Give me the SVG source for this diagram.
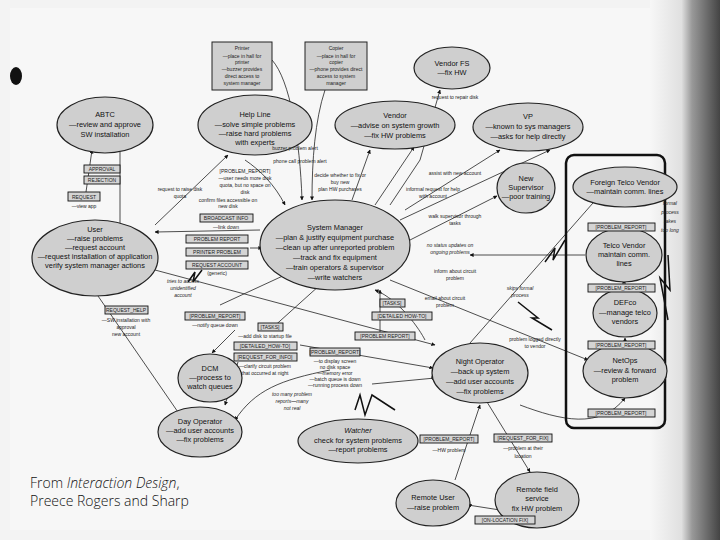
<svg xmlns="http://www.w3.org/2000/svg" width="720" height="540" viewBox="0 0 720 540">
<defs>
<marker id="a" viewBox="0 0 10 10" refX="9" refY="5" markerWidth="5" markerHeight="5" orient="auto"><path d="M0,0L10,5L0,10z" fill="#111"/></marker>
<linearGradient id="edge" x1="0" x2="1"><stop offset="0" stop-color="#f7f7f7"/><stop offset="0.45" stop-color="#e0e0e0"/><stop offset="0.6" stop-color="#999"/><stop offset="1" stop-color="#444"/></linearGradient>
<style>
.n ellipse{fill:#cfcfcf;stroke:#222;stroke-width:1.2}
.n rect{fill:#cfcfcf;stroke:#222;stroke-width:1}
.t{font-family:"Liberation Sans",Arial,sans-serif;font-size:7.4px;fill:#111;text-anchor:middle}
.s{font-family:"Liberation Sans",Arial,sans-serif;font-size:5px;fill:#222;text-anchor:middle}
.i{font-style:italic}
.b rect{fill:#d4d4d4;stroke:#111;stroke-width:0.9}
#c path,#c line{fill:none;stroke:#222;stroke-width:0.8;marker-end:url(#a)}
.z{fill:none;stroke:#111;stroke-width:1.5}
</style>
</defs>
<rect width="720" height="540" fill="#f3f3f3"/>
<rect x="10" y="8" width="660" height="522" fill="#f7f7f7"/>
<rect x="650" y="0" width="70" height="540" fill="url(#edge)"/>
<ellipse cx="16" cy="76" rx="6" ry="9" fill="#111"/>

<g id="c">
<path d="M86,192 L92,150"/>
<line x1="120" y1="152" x2="120" y2="232" style="marker-end:none"/>
<path d="M155,225 L228,155"/>
<path d="M272,60 C290,80 300,140 302,200"/>
<path d="M325,90 C315,120 312,160 312,200"/>
<path d="M245,160 C260,170 275,185 285,205"/>
<path d="M352,200 L370,150"/>
<path d="M375,205 L414,147"/>
<path d="M390,205 L420,160 L440,90"/>
<path d="M405,210 L500,150"/>
<path d="M400,220 L550,150"/>
<path d="M410,240 L497,196"/>
<path d="M260,230 L155,232"/>
<path d="M250,248 L262,248"/>
<path d="M585,255 L470,255"/>
<path d="M390,280 L588,360"/>
<path d="M470,343 L600,195"/>
<path d="M425,340 C420,330 400,300 375,290"/>
<path d="M270,330 L320,285"/>
<path d="M220,305 L300,268"/>
<path d="M380,335 L380,290"/>
<path d="M155,270 L435,345"/>
<path d="M98,296 L180,415"/>
<path d="M235,330 L212,353"/>
<path d="M238,362 L225,405"/>
<path d="M330,370 C280,380 255,390 235,420"/>
<path d="M300,345 L433,368"/>
<path d="M372,384 L435,378"/>
<path d="M455,480 L480,405"/>
<path d="M487,402 L530,472"/>
<path d="M500,510 L468,505"/>
<path d="M622,230 L622,228"/>
<path d="M624,282 L624,280"/>
<path d="M625,340 L625,338"/>
<path d="M520,405 C560,420 600,430 625,398"/>
<path d="M625,250 L625,246"/>
<polyline class="z" points="545,262 555,248 553,260 565,240"/>
<polyline class="z" points="188,282 195,272 193,282 202,270"/>
<polyline class="z" points="518,302 538,318 532,318 552,330"/>
<polyline class="z" points="668,255 670,290 660,278 668,320"/>
<polyline class="z" points="355,410 360,395 365,415 372,395 395,410 380,400"/>
</g>

<rect x="566" y="155" width="99" height="273" rx="8" fill="none" stroke="#111" stroke-width="2.5"/>

<g id="printer" class="n"><rect x="212" y="42" width="60" height="48"/><text class="s" x="242" y="50">Printer</text><text class="s" x="242" y="58">—place in hall for</text><text class="s" x="242" y="64">printer</text><text class="s" x="242" y="71">—buzzer provides</text><text class="s" x="242" y="78">direct access to</text><text class="s" x="242" y="85">system manager</text></g>
<g id="copier" class="n"><rect x="305" y="42" width="62" height="48"/><text class="s" x="336" y="50">Copier</text><text class="s" x="336" y="58">—place in hall for</text><text class="s" x="336" y="64">copier</text><text class="s" x="336" y="71">—phone provides direct</text><text class="s" x="336" y="78">access to system</text><text class="s" x="336" y="85">manager</text></g>
<g id="vendorfs" class="n"><ellipse cx="452" cy="68" rx="38" ry="21"/><text class="t" x="452" y="66">Vendor FS</text><text class="t" x="452" y="75">—fix HW</text></g>
<g id="abtc" class="n"><ellipse cx="105" cy="125" rx="48" ry="28"/><text class="t" x="105" y="117">ABTC</text><text class="t" x="105" y="127">—review and approve</text><text class="t" x="105" y="137">SW installation</text></g>
<g id="helpline" class="n"><ellipse cx="255" cy="125" rx="57" ry="30"/><text class="t" x="255" y="117">Help Line</text><text class="t" x="255" y="127">—solve simple problems</text><text class="t" x="255" y="136">—raise hard problems</text><text class="t" x="255" y="145">with experts</text></g>
<g id="vendor" class="n"><ellipse cx="395" cy="125" rx="60" ry="24"/><text class="t" x="395" y="118">Vendor</text><text class="t" x="395" y="128">—advise on system growth</text><text class="t" x="395" y="138">—fix HW problems</text></g>
<g id="vp" class="n"><ellipse cx="528" cy="127" rx="55" ry="24"/><text class="t" x="528" y="119">VP</text><text class="t" x="528" y="129">—known to sys managers</text><text class="t" x="528" y="139">—asks for help directly</text></g>
<g id="newsup" class="n"><ellipse cx="526" cy="188" rx="29" ry="25"/><text class="t" x="526" y="181">New</text><text class="t" x="526" y="190">Supervisor</text><text class="t" x="526" y="199">—poor training</text></g>
<g id="foreign" class="n"><ellipse cx="625" cy="187" rx="52" ry="20"/><text class="t" x="625" y="185">Foreign Telco Vendor</text><text class="t" x="625" y="194">—maintain comm. lines</text></g>
<g id="telco" class="n"><ellipse cx="624" cy="255" rx="38" ry="27"/><text class="t" x="624" y="248">Telco Vendor</text><text class="t" x="624" y="257">maintain comm.</text><text class="t" x="624" y="266">lines</text></g>
<g id="defco" class="n"><ellipse cx="625" cy="313" rx="32" ry="24"/><text class="t" x="625" y="305">DEFco</text><text class="t" x="625" y="315">—manage telco</text><text class="t" x="625" y="324">vendors</text></g>
<g id="netops" class="n"><ellipse cx="625" cy="371" rx="42" ry="27"/><text class="t" x="625" y="363">NetOps</text><text class="t" x="625" y="373">—review &amp; forward</text><text class="t" x="625" y="382">problem</text></g>
<g id="user" class="n"><ellipse cx="95" cy="258" rx="63" ry="38"/><text class="t" x="95" y="232">User</text><text class="t" x="95" y="241">—raise problems</text><text class="t" x="95" y="250">—request account</text><text class="t" x="95" y="259">—request installation of application</text><text class="t" x="95" y="268">verify system manager actions</text></g>
<g id="sysmgr" class="n"><ellipse cx="335" cy="245" rx="75" ry="45"/><text class="t" x="335" y="230">System Manager</text><text class="t" x="335" y="240">—plan &amp; justify equipment purchase</text><text class="t" x="335" y="250">—clean up after unreported problem</text><text class="t" x="335" y="260">—track and fix equipment</text><text class="t" x="335" y="270">—train operators &amp; supervisor</text><text class="t" x="335" y="280">—write watchers</text></g>
<g id="dcm" class="n"><ellipse cx="210" cy="378" rx="32" ry="24"/><text class="t" x="210" y="371">DCM</text><text class="t" x="210" y="380">—process to</text><text class="t" x="210" y="389">watch queues</text></g>
<g id="dayop" class="n"><ellipse cx="200" cy="432" rx="42" ry="25"/><text class="t" x="200" y="424">Day Operator</text><text class="t" x="200" y="433">—add user accounts</text><text class="t" x="200" y="442">—fix problems</text></g>
<g id="watcher" class="n"><ellipse cx="358" cy="441" rx="60" ry="22"/><text class="t i" x="358" y="433">Watcher</text><text class="t" x="358" y="443">check for system problems</text><text class="t" x="358" y="452">—report problems</text></g>
<g id="nightop" class="n"><ellipse cx="480" cy="373" rx="48" ry="30"/><text class="t" x="480" y="364">Night Operator</text><text class="t" x="480" y="374">—back up system</text><text class="t" x="480" y="384">—add user accounts</text><text class="t" x="480" y="394">—fix problems</text></g>
<g id="remoteuser" class="n"><ellipse cx="433" cy="503" rx="37" ry="23"/><text class="t" x="433" y="500">Remote User</text><text class="t" x="433" y="510">—raise problem</text></g>
<g id="remotefield" class="n"><ellipse cx="537" cy="500" rx="42" ry="28"/><text class="t" x="537" y="492">Remote field</text><text class="t" x="537" y="501">service</text><text class="t" x="537" y="511">fix HW problem</text></g>

<g id="labels" class="b">
<rect x="84" y="165" width="36" height="8"/><text class="s" x="102" y="171">APPROVAL</text>
<rect x="84" y="176" width="36" height="8"/><text class="s" x="102" y="182">REJECTION</text>
<rect x="68" y="192" width="32" height="9"/><text class="s" x="84" y="199">REQUEST</text><text class="s" x="84" y="208">—view app</text>
<text class="s" x="245" y="173">[PROBLEM_REPORT]</text><text class="s" x="245" y="180">—user needs more disk</text><text class="s" x="245" y="187">quota, but no space on</text><text class="s" x="245" y="194">disk</text>
<text class="s" x="180" y="191">request to raise disk</text><text class="s" x="180" y="198">quota</text>
<text class="s" x="228" y="202">confirm files accessible on</text><text class="s" x="228" y="208">new disk</text>
<text class="s" x="295" y="150">buzzer problem alert</text><text class="s" x="300" y="163">phone call problem alert</text>
<text class="s" x="340" y="177">decide whether to fix or</text><text class="s" x="340" y="184">buy new</text><text class="s" x="340" y="191">plan HW purchases</text>
<text class="s" x="455" y="99">request to repair disk</text>
<text class="s" x="455" y="175">assist with new account</text>
<text class="s" x="433" y="191">informal request for help</text><text class="s" x="433" y="198">with account</text>
<text class="s" x="455" y="218">walk supervisor through</text><text class="s" x="455" y="225">tasks</text>
<rect x="200" y="214" width="53" height="8"/><text class="s" x="226" y="220">BROADCAST INFO</text><text class="s" x="226" y="229">—link down</text>
<rect x="186" y="235" width="62" height="8"/><text class="s" x="217" y="241">PROBLEM REPORT</text>
<rect x="186" y="248" width="62" height="8"/><text class="s" x="217" y="254">PRINTER PROBLEM</text>
<rect x="186" y="261" width="62" height="8"/><text class="s" x="217" y="267">REQUEST ACCOUNT</text><text class="s" x="217" y="275">(generic)</text>
<text class="s i" x="183" y="283">tries to access</text><text class="s i" x="183" y="290">unidentified</text><text class="s i" x="183" y="297">account</text>
<text class="s i" x="450" y="247">no status updates on</text><text class="s i" x="450" y="254">ongoing problems</text>
<text class="s" x="455" y="273">inform about circuit</text><text class="s" x="455" y="280">problem</text>
<text class="s i" x="520" y="290">skips formal</text><text class="s i" x="520" y="297">process</text>
<text class="s" x="445" y="300">email about circuit</text><text class="s" x="445" y="307">problem</text>
<text class="s" x="535" y="341">problem logged directly</text><text class="s" x="535" y="348">to vendor</text>
<rect x="105" y="306" width="43" height="8"/><text class="s" x="126" y="312">REQUEST_HELP</text><text class="s" x="126" y="322">—SW installation with</text><text class="s" x="126" y="329">approval</text><text class="s" x="126" y="336">new account</text>
<rect x="185" y="312" width="60" height="8"/><text class="s" x="215" y="318">[PROBLEM_REPORT]</text><text class="s" x="215" y="327">—notify queue down</text>
<rect x="258" y="323" width="25" height="8"/><text class="s" x="270" y="329">[TASKS]</text><text class="s" x="265" y="338">—add disk to startup file</text>
<rect x="234" y="342" width="63" height="8"/><text class="s" x="265" y="348">[DETAILED_HOW-TO]</text>
<rect x="234" y="353" width="63" height="8"/><text class="s" x="265" y="359">[REQUEST_FOR_INFO]</text><text class="s" x="265" y="368">—clarify circuit problem</text><text class="s" x="265" y="375">that occurred at night</text>
<rect x="380" y="299" width="25" height="8"/><text class="s" x="392" y="305">[TASKS]</text>
<rect x="372" y="312" width="60" height="8"/><text class="s" x="402" y="318">[DETAILED HOW-TO]</text>
<rect x="355" y="332" width="60" height="8"/><text class="s" x="385" y="338">[PROBLEM REPORT]</text>
<rect x="310" y="348" width="50" height="8"/><text class="s" x="335" y="354">[PROBLEM_REPORT]</text><text class="s" x="335" y="363">—to display screen</text><text class="s" x="335" y="369">no disk space</text><text class="s" x="335" y="375">—memory error</text><text class="s" x="335" y="381">—batch queue is down</text><text class="s" x="335" y="387">—running process down</text>
<text class="s i" x="292" y="396">too many problem</text><text class="s i" x="292" y="403">reports—many</text><text class="s i" x="292" y="410">not real</text>
<rect x="588" y="223" width="67" height="8"/><text class="s" x="621" y="229">[PROBLEM_REPORT]</text>
<rect x="588" y="284" width="67" height="8"/><text class="s" x="621" y="290">[PROBLEM_REPORT]</text>
<rect x="588" y="341" width="67" height="8"/><text class="s" x="621" y="347">[PROBLEM_REPORT]</text>
<rect x="588" y="409" width="67" height="8"/><text class="s" x="621" y="415">[PROBLEM_REPORT]</text>
<text class="s i" x="670" y="205">formal</text><text class="s i" x="670" y="214">process</text><text class="s i" x="670" y="223">takes</text><text class="s i" x="670" y="232">too long</text>
<rect x="420" y="435" width="58" height="8"/><text class="s" x="449" y="441">[PROBLEM_REPORT]</text><text class="s" x="449" y="452">—HW problem</text>
<rect x="494" y="434" width="58" height="8"/><text class="s" x="523" y="440">[REQUEST_FOR_FIX]</text><text class="s" x="523" y="450">—problem at their</text><text class="s" x="523" y="458">location</text>
<rect x="475" y="516" width="60" height="8"/><text class="s" x="505" y="522">[ON-LOCATION FIX]</text>
</g>

<g id="caption" font-family="'Open Sans','Liberation Sans',sans-serif" font-size="14" font-weight="300" fill="#111"><text x="30" y="488">From <tspan font-style="italic">Interaction Design</tspan>,</text><text x="30" y="506">Preece Rogers and Sharp</text></g>
</svg>
